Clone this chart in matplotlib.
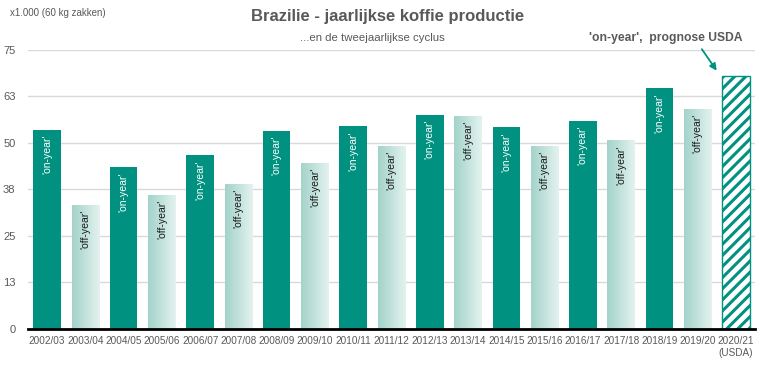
import matplotlib
matplotlib.use("Agg")
import matplotlib.pyplot as plt
import numpy as np
from matplotlib.colors import LinearSegmentedColormap

years = ["2002/03", "2003/04", "2004/05", "2005/06", "2006/07", "2007/08", "2008/09",
         "2009/10", "2010/11", "2011/12", "2012/13", "2013/14", "2014/15", "2015/16",
         "2016/17", "2017/18", "2018/19", "2019/20", "2020/21\n(USDA)"]
production = [53.4, 33.2, 43.4, 36.0, 46.6, 38.9, 53.1, 44.6, 54.4, 49.1, 57.4, 57.1,
              54.1, 49.1, 55.8, 50.6, 64.6, 59.0, 67.9]
cycle = ["on", "off", "on", "off", "on", "off", "on", "off", "on", "off", "on", "off",
         "on", "off", "on", "off", "on", "off", "forecast"]
ytick_vals = [0, 12.5, 25, 37.5, 50, 62.5, 75]
ytick_labels = ["0", "13", "25", "38", "50", "63", "75"]

plt.rcParams['font.family'] = ['Liberation Sans', 'DejaVu Sans']
plt.rcParams['hatch.linewidth'] = 2.2

TEAL = "#009181"
GRAY = "#595959"

fig = plt.figure(figsize=(7.68, 3.70), dpi=100)
ax = fig.add_axes([28/768, 1-329/370, (755-28)/768, (329-49.5)/370])

x = np.arange(len(years))
width = 0.72
grad = np.linspace(0, 1, 64).reshape(1, -1)
cmap = LinearSegmentedColormap.from_list("g", ["#a3d3ca", "#e3f2ef"])

for xi, v, c in zip(x, production, cycle):
    if c == "on":
        ax.bar(xi, v, width, color=TEAL, zorder=3)
        ax.text(xi, v - 1.3, "'on-year'", rotation=90, ha="center", va="top",
                color="white", fontsize=7.5, zorder=5)
    elif c == "off":
        b = ax.bar(xi, v, width, color="none", zorder=3)[0]
        im = ax.imshow(grad, cmap=cmap, aspect="auto",
                       extent=[xi - width/2, xi + width/2, 0, v], zorder=3)
        im.set_clip_path(b)
        ax.text(xi, v - 1.3, "'off-year'", rotation=90, ha="center", va="top",
                color="#1a1a1a", fontsize=7.5, zorder=5)
    else:
        ax.bar(xi, v, width, color="white", edgecolor=TEAL, hatch="///",
               linewidth=1.0, zorder=3)

ax.set_xlim(-0.5, len(years) - 0.5)
ax.set_ylim(0, 75)
ax.set_yticks(ytick_vals)
ax.set_yticklabels(ytick_labels)
ax.set_xticks(x)
ax.set_xticklabels(years, linespacing=1.3)
ax.tick_params(axis="both", length=0, colors=GRAY)
ax.tick_params(axis="y", pad=9, labelsize=8)
ax.tick_params(axis="x", pad=5, labelsize=7.2)
ax.grid(axis="y", color="#d9d9d9", linewidth=1.0, zorder=0)
for s in ["top", "right", "left"]:
    ax.spines[s].set_visible(False)
ax.spines["bottom"].set_color("black")
ax.spines["bottom"].set_linewidth(2)
ax.spines["bottom"].set_zorder(6)

fig.text(10/768, 1-13/370, "x1.000 (60 kg zakken)", fontsize=7, color=GRAY,
         ha="left", va="center")
fig.text(388/768, 1-17/370, "Brazilie - jaarlijkse koffie productie", fontsize=12,
         fontweight="bold", color=GRAY, ha="center", va="center")
fig.text(372/768, 1-38/370, "...en de tweejaarlijkse cyclus", fontsize=8.2, color=GRAY,
         ha="center", va="center")
fig.text(666/768, 1-38/370, "'on-year',  prognose USDA", fontsize=8.7, fontweight="bold",
         color=GRAY, ha="center", va="center")

ax.annotate("", xy=(17.54, 68.7), xytext=(17.07, 75.7),
            arrowprops=dict(arrowstyle="-|>", color=TEAL, lw=1.3, mutation_scale=10),
            annotation_clip=False)

fig.savefig("out.png", dpi=100)
